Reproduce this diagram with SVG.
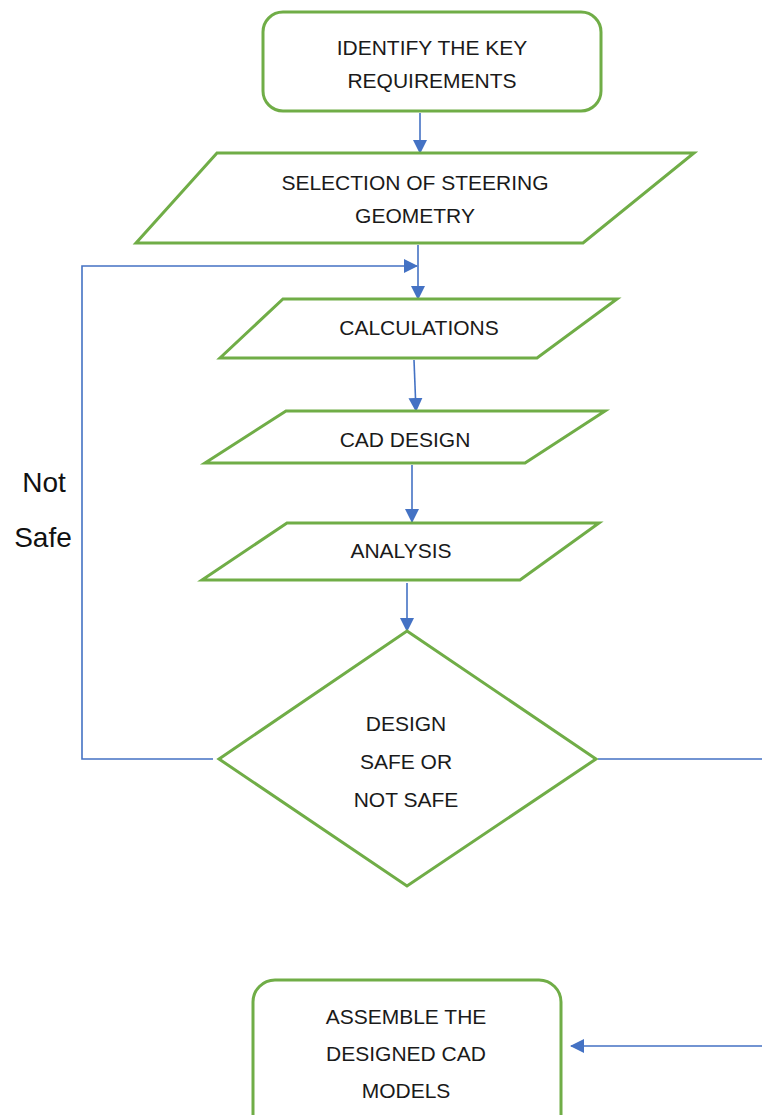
<svg xmlns="http://www.w3.org/2000/svg" width="762" height="1115" viewBox="0 0 762 1115">
<defs>
<marker id="arrow" markerUnits="userSpaceOnUse" markerWidth="14" markerHeight="14" viewBox="0 0 14 14" refX="13" refY="7" orient="auto">
<path d="M0,0 L14,7 L0,14 Z" fill="#4472C4"/>
</marker>
<style>
.shape{fill:#FFFFFF;stroke:#70AD47;stroke-width:3;}
.lbl{font-family:"Liberation Sans",Arial,sans-serif;font-size:21px;fill:#1a1a1a;text-anchor:middle;}
.side{font-family:"Liberation Sans",Arial,sans-serif;font-size:28px;fill:#111111;text-anchor:middle;}
.conn{fill:none;stroke:#4472C4;stroke-width:1.6;}
</style>
</defs>
<rect width="762" height="1115" fill="#FFFFFF"/>
<g id="connectors">
<path class="conn" d="M420,113 V153" marker-end="url(#arrow)"/>
<path class="conn" d="M418,245 V299" marker-end="url(#arrow)"/>
<path class="conn" d="M213,759 H82 V266 H417" marker-end="url(#arrow)"/>
<path class="conn" d="M414,360 L416,411" marker-end="url(#arrow)"/>
<path class="conn" d="M412,465 V522" marker-end="url(#arrow)"/>
<path class="conn" d="M407,583 V631" marker-end="url(#arrow)"/>
<path class="conn" d="M598,759 H763 V1046 H571" marker-end="url(#arrow)"/>
</g>
<g id="label-not-safe">
<text class="side" x="44" y="492">Not</text>
<text class="side" x="43" y="547">Safe</text>
</g>
<g id="node-identify">
<rect class="shape" x="263" y="12" width="338" height="99" rx="20" ry="20"/>
<text class="lbl" x="432" y="55">IDENTIFY THE KEY</text>
<text class="lbl" x="432" y="88">REQUIREMENTS</text>
</g>
<g id="node-selection">
<polygon class="shape" points="217,153 694,153 583,243 136,243"/>
<text class="lbl" x="415" y="190">SELECTION OF STEERING</text>
<text class="lbl" x="415" y="223">GEOMETRY</text>
</g>
<g id="node-calculations">
<polygon class="shape" points="283,299 617,299 537,358 220,358"/>
<text class="lbl" x="419" y="335">CALCULATIONS</text>
</g>
<g id="node-cad-design">
<polygon class="shape" points="286,411 605,411 525,463 205,463"/>
<text class="lbl" x="405" y="447">CAD DESIGN</text>
</g>
<g id="node-analysis">
<polygon class="shape" points="287,523 599,523 520,580 202,580"/>
<text class="lbl" x="401" y="558">ANALYSIS</text>
</g>
<g id="node-decision">
<polygon class="shape" points="407,631 596,759 407,886 219,759"/>
<text class="lbl" x="406" y="731">DESIGN</text>
<text class="lbl" x="406" y="769">SAFE OR</text>
<text class="lbl" x="406" y="807">NOT SAFE</text>
</g>
<g id="node-assemble">
<rect class="shape" x="253" y="980" width="308" height="160" rx="22" ry="22"/>
<text class="lbl" x="406" y="1024">ASSEMBLE THE</text>
<text class="lbl" x="406" y="1061">DESIGNED CAD</text>
<text class="lbl" x="406" y="1098">MODELS</text>
</g>
</svg>
